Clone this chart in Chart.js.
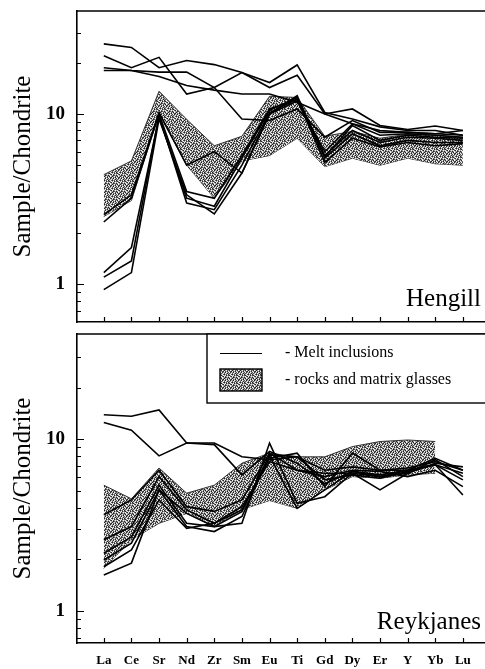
<!DOCTYPE html>
<html>
<head>
<meta charset="utf-8">
<script src="https://cdn.jsdelivr.net/npm/chart.js@4.4.1/dist/chart.umd.min.js"></script>
<style>
  html, body { margin: 0; padding: 0; background: #fff; overflow: hidden; width: 485px; height: 669px; }
  canvas { position: absolute; left: 0; }
  #hengill { top: 0; }
  #reykjanes { top: 330px; }
</style>
</head>
<body>
<canvas id="hengill" width="485" height="330"></canvas>
<canvas id="reykjanes" width="485" height="339"></canvas>
<script>
var elements = ["La", "Ce", "Sr", "Nd", "Zr", "Sm", "Eu", "Ti", "Gd", "Dy", "Er", "Y", "Yb", "Lu"];
var yTickVals = [0.7, 0.8, 0.9, 1, 2, 3, 4, 5, 6, 7, 8, 9, 10, 20, 30];

// Hengill: rocks and matrix glasses (band) + melt inclusions
var hengillBandLow = [2.5, 3.1, 10.0, 5.0, 3.2, 5.3, 5.7, 7.2, 4.9, 5.5, 5.0, 5.5, 5.1, 5.0];
var hengillBandHigh = [4.4, 5.3, 13.6, 9.3, 6.5, 7.4, 12.7, 12.5, 7.4, 7.9, 7.2, 7.6, 7.5, 7.3];
var hengillMelt = [
  [25.8, 24.6, 18.7, 20.6, 19.5, 17.5, 14.3, 16.9, 10.0, 10.7, 8.55, 8.1, 8.5, 8.0],
  [22.0, 18.7, 21.5, 13.1, 14.3, 17.5, 15.3, 19.4, 10.2, 9.35, 8.4, 8.0, 8.0, 7.5],
  [18.7, 18.0, 17.6, 17.6, 14.3, 9.35, 9.15, 10.7, 7.3, 9.15, 7.8, 7.8, 7.65, 8.0],
  [18.0, 18.0, 16.6, 14.7, 13.8, 13.1, 13.1, 11.7, 10.0, 8.75, 8.0, 7.8, 7.65, 7.5],
  [2.32, 3.2, 10.0, 3.5, 3.2, 5.7, 10.7, 12.2, 5.7, 8.0, 6.8, 7.3, 7.2, 7.0],
  [1.17, 1.64, 9.6, 3.2, 2.87, 5.5, 10.5, 12.5, 5.5, 7.65, 6.5, 7.0, 6.8, 6.8],
  [1.1, 1.37, 9.8, 3.0, 2.74, 5.0, 10.2, 12.2, 5.2, 7.2, 6.4, 6.8, 6.5, 6.7],
  [0.93, 1.17, 9.35, 3.35, 2.59, 4.5, 10.0, 12.8, 5.6, 8.55, 7.0, 7.5, 7.3, 7.2],
  [2.56, 3.35, 10.2, 5.0, 6.0, 4.5, 10.0, 11.9, 6.0, 8.75, 7.5, 7.65, 7.5, 7.3]
];

// Reykjanes
var reykBandLow = [1.77, 2.6, 3.24, 3.7, 3.1, 3.9, 4.4, 3.96, 5.07, 6.06, 5.93, 6.2, 6.34, null];
var reykBandHigh = [5.4, 4.5, 6.8, 4.85, 5.4, 7.25, 8.3, 7.9, 7.9, 9.06, 9.7, 9.9, 9.7, null];
var reykMelt = [
  [13.9, 13.6, 14.8, 9.5, 9.5, 7.9, 7.6, 7.9, 6.6, 6.9, 6.6, 6.8, 7.4, 6.6],
  [12.5, 11.3, 8.0, 9.5, 9.3, 6.2, 8.5, 7.25, 5.5, 6.5, 6.2, 6.6, 7.1, 5.8],
  [3.63, 4.43, 6.6, 4.05, 3.8, 4.43, 8.3, 6.6, 6.34, 6.34, 6.06, 6.34, 7.25, 6.9],
  [2.6, 3.1, 6.06, 3.88, 3.24, 3.88, 7.75, 8.3, 5.3, 8.3, 6.6, 6.6, 7.75, 6.6],
  [2.17, 2.7, 5.4, 3.24, 3.1, 3.24, 9.5, 4.24, 4.63, 6.34, 5.07, 6.34, 7.6, 6.06],
  [1.98, 2.48, 5.07, 3.1, 2.9, 3.55, 8.0, 3.96, 5.07, 6.5, 6.06, 6.6, 7.1, 4.74],
  [1.81, 2.27, 4.43, 3.03, 3.24, 4.05, 7.4, 6.6, 6.06, 6.6, 6.5, 6.06, 6.6, 5.3],
  [1.62, 1.9, 5.07, 3.7, 3.1, 3.79, 8.1, 7.9, 5.8, 6.2, 5.93, 6.48, 7.1, 6.34]
];

var serif = "'Liberation Serif', 'Times New Roman', Times, serif";
Chart.defaults.color = "#000";
Chart.defaults.font.family = serif;

// grey stippled fill for the band
var hatch = (function () {
  var rows = [
    "kgwdgkwg",
    "wdgkwgdk",
    "gkwgdwkg",
    "dwgkgdgw",
    "kgdwkgwd",
    "gwkgdkgw",
    "wdgwgwdk",
    "gkdgkgwg"
  ];
  var shade = { k: "#222", d: "#555", g: "#a0a0a0", w: "#f4f4f4" };
  var c = document.createElement("canvas");
  c.width = 8;
  c.height = 8;
  var g = c.getContext("2d");
  rows.forEach(function (r, y) {
    for (var x = 0; x < r.length; x++) {
      g.fillStyle = shade[r[x]];
      g.fillRect(x, y, 1, 1);
    }
  });
  return g.createPattern(c, "repeat");
})();

function pts(arr) {
  return arr.map(function (v, i) { return { x: i, y: v }; });
}

function noPad(s) {
  s.paddingTop = 0;
  s.paddingBottom = 0;
  s.paddingLeft = 0;
  s.paddingRight = 0;
}

var framePlugin = {
  id: "frame",
  afterDraw: function (chart, args, opts) {
    var ctx = chart.ctx, a = chart.chartArea;
    var xs = chart.scales.x, ys = chart.scales.y;
    ctx.save();
    ctx.strokeStyle = "#000";
    ctx.lineWidth = 1.6;
    ctx.beginPath();
    ctx.moveTo(a.left, a.top);
    ctx.lineTo(a.right, a.top);
    ctx.stroke();

    // inward tick marks
    ctx.lineWidth = 1.2;
    ctx.beginPath();
    yTickVals.forEach(function (v) {
      var y = Math.round(ys.getPixelForValue(v)) + 0.5;
      var len = (v === 1 || v === 10) ? 7 : 4;
      ctx.moveTo(a.left, y);
      ctx.lineTo(a.left + len, y);
    });
    elements.forEach(function (e, i) {
      var x = Math.round(xs.getPixelForValue(i)) + 0.5;
      ctx.moveTo(x, a.bottom);
      ctx.lineTo(x, a.bottom - 5);
    });
    ctx.stroke();

    ctx.fillStyle = "#000";
    ctx.font = "25px " + serif;
    ctx.textAlign = "right";
    ctx.textBaseline = "alphabetic";
    ctx.fillText(opts.name, 481, opts.nameY);

    if (opts.legend) {
      ctx.fillStyle = "#fff";
      ctx.fillRect(207, a.top, 290, 69);
      ctx.lineWidth = 1.4;
      ctx.strokeRect(207, a.top, 290, 69);
      ctx.lineWidth = 1;
      ctx.beginPath();
      ctx.moveTo(220, 23.5);
      ctx.lineTo(262, 23.5);
      ctx.stroke();
      ctx.fillStyle = hatch;
      ctx.fillRect(220, 39, 42, 22);
      ctx.lineWidth = 1.4;
      ctx.strokeRect(220, 39, 42, 22);
      ctx.fillStyle = "#000";
      ctx.font = "16px " + serif;
      ctx.textAlign = "left";
      ctx.textBaseline = "middle";
      ctx.fillText("- Melt inclusions", 285, 23);
      ctx.fillText("- rocks and matrix glasses", 285, 50);
    }
    ctx.restore();
  }
};

function makeSpider(id, bandLow, bandHigh, melt, cfg) {
  var datasets = [
    { data: pts(bandLow), borderColor: "#333", borderWidth: 1, fill: false, order: 10 },
    { data: pts(bandHigh), borderColor: "#333", borderWidth: 1, fill: 0, backgroundColor: hatch, order: 9 }
  ];
  melt.forEach(function (m) {
    datasets.push({ data: pts(m), borderColor: "#000", borderWidth: 1.6, fill: false, order: 0 });
  });

  return new Chart(document.getElementById(id), {
    type: "line",
    data: { datasets: datasets },
    options: {
      responsive: false,
      animation: false,
      layout: { padding: { top: cfg.top, left: 0, right: 0, bottom: 0 } },
      elements: { line: { tension: 0 }, point: { radius: 0 } },
      plugins: {
        legend: { display: false },
        tooltip: { enabled: false },
        frame: { name: cfg.name, nameY: cfg.nameY, legend: cfg.legend }
      },
      scales: {
        x: {
          type: "linear",
          min: -0.97,
          max: 13.8,
          afterBuildTicks: function (s) {
            s.ticks = elements.map(function (e, i) { return { value: i }; });
          },
          afterFit: function (s) { s.height = cfg.xHeight; noPad(s); },
          grid: { display: false, drawTicks: false },
          border: { display: true, color: "#000", width: 1.6 },
          ticks: {
            display: cfg.showLabels,
            autoSkip: false,
            maxRotation: 0,
            padding: 10,
            font: { size: 13, weight: "bold", family: serif },
            callback: function (v) { return elements[v]; }
          }
        },
        y: {
          type: "logarithmic",
          min: cfg.yMin,
          max: cfg.yMax,
          afterBuildTicks: function (s) {
            s.ticks = yTickVals.map(function (v) { return { value: v }; });
          },
          afterFit: function (s) { s.width = 77; noPad(s); },
          grid: { display: false, drawTicks: false },
          border: { display: true, color: "#000", width: 1.6 },
          ticks: {
            autoSkip: false,
            padding: 12,
            font: { size: 19, weight: "bold", family: serif },
            callback: function (v) {
              if (Math.abs(v - 1) < 1e-9) return "1";
              if (Math.abs(v - 10) < 1e-9) return "10";
              return "";
            }
          },
          title: {
            display: true,
            text: "Sample/Chondrite",
            font: { size: 25, family: serif },
            padding: { top: 8, bottom: 0 }
          }
        }
      }
    },
    plugins: [framePlugin]
  });
}

makeSpider("hengill", hengillBandLow, hengillBandHigh, hengillMelt, {
  top: 11, xHeight: 8, yMin: 0.628, yMax: 40.25,
  name: "Hengill", nameY: 306, legend: false, showLabels: false
});

makeSpider("reykjanes", reykBandLow, reykBandHigh, reykMelt, {
  top: 4, xHeight: 26, yMin: 0.651, yMax: 41.0,
  name: "Reykjanes", nameY: 299, legend: true, showLabels: true
});
</script>
</body>
</html>
